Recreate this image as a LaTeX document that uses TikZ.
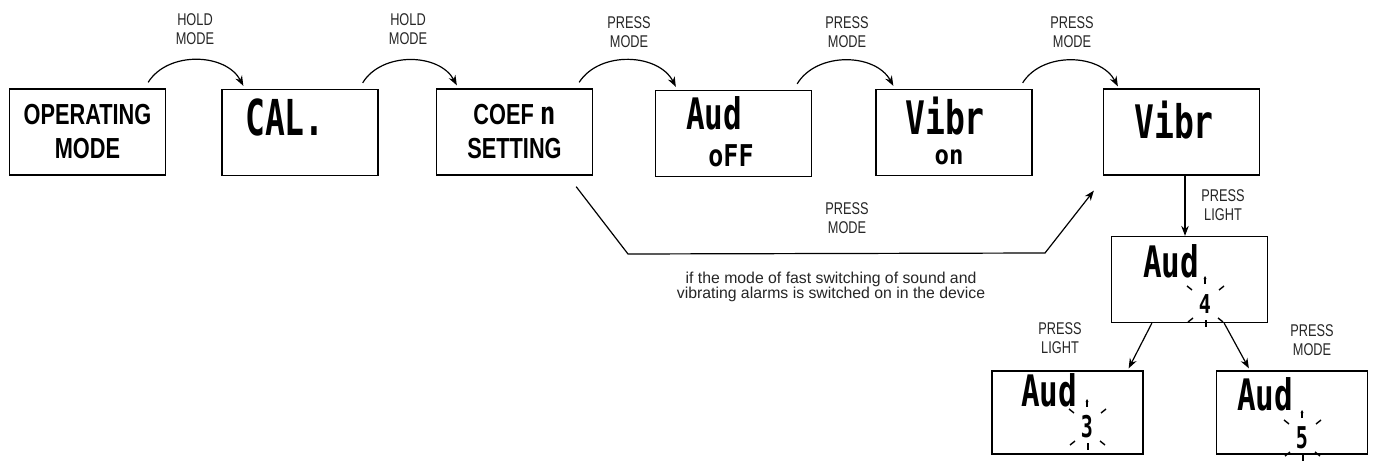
\documentclass[tikz,border=0pt]{standalone}
\usepackage{fontspec}
\setmainfont{Liberation Sans}
\newfontfamily\narrowfont[FakeStretch=0.75]{Liberation Sans}
\newfontfamily\boxfont[FakeStretch=0.75]{Liberation Sans}
\newfontfamily\lcdfont{DejaVu Sans Mono}
\usetikzlibrary{arrows.meta,calc}
\newcommand\lcdtext[3]{{\lcdfont\bfseries\fontsize{#1}{#1}\selectfont\scalebox{1}[#2]{#3}}}
\newcommand\flashmarks[1]{%
  \draw[flashtick,-{Stealth[length=3pt,width=3pt]}] ($(#1)+(0,20)$) -- ++(0,8);
  \draw[flashtick] ($(#1)+(-13,14)$) -- ++(-5,4);
  \draw[flashtick] ($(#1)+(14,14)$) -- ++(5,4);
  \draw[flashtick] ($(#1)+(-12,-14)$) -- ++(-5,-4);
  \draw[flashtick] ($(#1)+(1,-16)$) -- ++(0,-7);
  \draw[flashtick] ($(#1)+(13,-14)$) -- ++(5,-4);
}
\begin{document}
\begin{tikzpicture}[x=1pt,y=1pt,
  scr/.style={draw, line width=1.3pt, minimum width=156pt, minimum height=86pt, inner sep=0pt},
  scrs/.style={scr, minimum width=151pt, minimum height=83pt},
  boxtxt/.style={font=\boxfont\bfseries\fontsize{29}{34}\selectfont, align=center},
  lbl/.style={font=\narrowfont\fontsize{17}{19}\selectfont, align=center, text=black!85},
  note/.style={font=\fontsize{15.8}{15}\selectfont, align=center, text=black!85},
  arr/.style={-{Stealth[length=10pt,width=7.5pt]}, line width=1.2pt},
  flashtick/.style={line width=1.4pt},
  lcdbig/.style={inner sep=0pt},
]
\fill[white] (0,0) rectangle (1375,461);
\useasboundingbox (0,0) rectangle (1375,461);

% screens
\node[scr,boxtxt] (b1) at (87.5,329) {OPERATING\\MODE};
\node[scr] (b2) at (300,328.5) {};
\node[scr,boxtxt] (b3) at (514.5,329) {COEF \lcdtext{26}{1.2}{n}\\SETTING};
\node[scr] (b4) at (733.5,327.5) {};
\node[scr] (b5) at (954,328.5) {};
\node[scr] (b6) at (1181.5,329) {};
\node[scr] (b7) at (1189.5,181.5) {};
\node[scrs] (b8) at (1067.5,48.5) {};
\node[scrs] (b9) at (1292,48.5) {};

% display texts
\node[lcdbig] (t2) at (285,344) {\lcdtext{33}{1.5}{CAL.}};
\node[lcdbig] (t4a) at (714,348) {\lcdtext{31}{1.4}{Aud}};
\node[lcdbig] (t4b) at (731,305) {\lcdtext{25}{1.2}{oFF}};
\node[lcdbig] (t5a) at (945,345) {\lcdtext{33}{1.4}{Vibr}};
\node[lcdbig] (t5b) at (949,304) {\lcdtext{24}{1.1}{on}};
\node[lcdbig] (t6) at (1174,341) {\lcdtext{33}{1.4}{Vibr}};
\node[lcdbig] (t7a) at (1171,200) {\lcdtext{31}{1.4}{Aud}};
\node[lcdbig] (t7b) at (1205,157) {\lcdtext{20}{1.3}{4}};
\node[lcdbig] (t8a) at (1049,71) {\lcdtext{31}{1.4}{Aud}};
\node[lcdbig] (t8b) at (1087,34) {\lcdtext{20}{1.5}{3}};
\node[lcdbig] (t9a) at (1265,67) {\lcdtext{31}{1.4}{Aud}};
\node[lcdbig] (t9b) at (1302,23) {\lcdtext{20}{1.5}{5}};

\flashmarks{t7b}
\flashmarks{t8b}
\flashmarks{t9b}

% arc arrows along the top
\draw[arr] ([shift={(-18,6)}]b1.north east) to[bend left=60] ([shift={(22,3)}]b2.north west);
\draw[arr] ([shift={(-16,6)}]b2.north east) to[bend left=60] ([shift={(21,3)}]b3.north west);
\draw[arr] ([shift={(-14,6)}]b3.north east) to[bend left=60] ([shift={(21,3)}]b4.north west);
\draw[arr] ([shift={(-15,6)}]b4.north east) to[bend left=60] ([shift={(18,3)}]b5.north west);
\draw[arr] ([shift={(-10,6)}]b5.north east) to[bend left=60] ([shift={(15,2)}]b6.north west);

\node[lbl] (l1) at (195,432) {HOLD\\MODE};
\node[lbl] (l2) at (408,432) {HOLD\\MODE};
\node[lbl] (l3) at (629,429) {PRESS\\MODE};
\node[lbl] (l4) at (847,429) {PRESS\\MODE};
\node[lbl] (l5) at (1072,429) {PRESS\\MODE};

% bypass
\coordinate (bp1) at (628,207);
\coordinate (bp2) at (1045,208);
\draw[arr] ([shift={(-17,-11)}]b3.south east) -- (bp1) -- (bp2) -- ([shift={(-9,-15)}]b6.south west);
\node[lbl] (l6) at (847,243) {PRESS\\MODE};
\node[note] (n1) at (831,174) {if the mode of fast switching of sound and\\vibrating alarms is switched on in the device};

% down arrows
\draw[arr] ([xshift=3.5pt]b6.south) -- ([xshift=-4.5pt]b7.north);
\node[lbl] (l7) at (1223,256) {PRESS\\LIGHT};
\draw[arr] ([xshift=41pt]b7.south west) -- ([shift={(-15,2)}]b8.north east);
\draw[arr] ([xshift=-44pt]b7.south east) -- ([shift={(33,2)}]b9.north west);
\node[lbl] (l8) at (1060,123) {PRESS\\LIGHT};
\node[lbl] (l9) at (1312,121) {PRESS\\MODE};
\end{tikzpicture}
\end{document}
